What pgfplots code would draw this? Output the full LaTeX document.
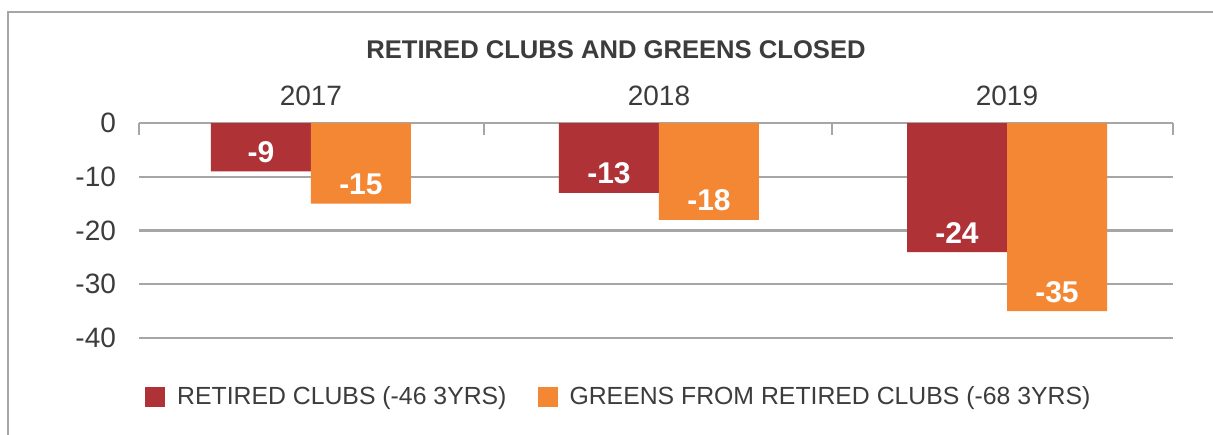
\documentclass[border=0pt]{standalone}
\usepackage{pgfplots}
\pgfplotsset{compat=1.18}
\usepackage{fontspec}
\setmainfont{Liberation Sans}
\definecolor{clubred}{HTML}{AF3237}
\definecolor{greenorange}{HTML}{F48733}
\definecolor{txt}{HTML}{3C3C3C}
\definecolor{gridc}{HTML}{A6A6A6}
\begin{document}
\begin{tikzpicture}
\useasboundingbox (-69.5pt,-48pt) rectangle (537pt,169pt);
\fill[white] (-69.5pt,-48pt) rectangle (537pt,169pt);
\draw[gridc, line width=0.8pt] (-65.5pt,-60pt) -- (-65.5pt,163pt) -- (545pt,163pt);
\node[font=\bfseries\fontsize{12.8}{14}\selectfont, text=txt] at (238.5pt,144pt) {RETIRED CLUBS AND GREENS CLOSED};
\begin{axis}[
  at={(0,0)}, anchor=south west,
  scale only axis, width=517pt, height=107.5pt,
  xmin=-0.494, xmax=2.477, ymin=-40, ymax=0,
  ybar=0pt, bar width=50pt,
  axis x line*=top, axis y line*=left,
  y axis line style={draw=none},
  x axis line style={draw=gridc, line width=1.2pt, -},
  xtick={-0.494,0.497,1.497,2.477}, xticklabels={},
  tick align=inside,
  major x tick style={draw=gridc, line width=1.2pt},
  major tick length=6pt,
  extra x ticks={0,1,2},
  extra x tick labels={2017,2018,2019},
  extra x tick style={major tick length=0pt},
  xticklabel style={font=\fontsize{14}{15}\selectfont, text=txt, yshift=5pt},
  ytick={-40,-30,-20,-10,0},
  yticklabels={-40,-30,-20,-10,0},
  y tick style={draw=none},
  yticklabel style={font=\fontsize{14}{15}\selectfont, text=txt, xshift=-8pt},
  ymajorgrids, grid style={draw=gridc, line width=1.2pt},
  /pgf/number format/assume math mode=true,
  nodes near coords={\pgfmathprintnumber{\pgfplotspointmeta}},
  every node near coord/.append style={anchor=base, yshift=4.5pt, font=\bfseries\fontsize{15}{16}\selectfont, text=white},
  legend style={at={(axis description cs:0.465,-0.274)}, anchor=center, draw=none, fill=none,
    legend columns=-1, font=\fontsize{12.4}{14}\selectfont, text=txt,
    /tikz/every even column/.append style={column sep=13.5pt}},
  legend image code/.code={\fill[#1] (0pt,-5pt) rectangle (10pt,5pt); \path (14pt,0pt);},
]
\addplot[fill=clubred, draw=none] coordinates {(0,-9) (1,-13) (2,-24)};
\addplot[fill=greenorange, draw=none] coordinates {(0,-15) (1,-18) (2,-35)};
\legend{RETIRED CLUBS (-46 3YRS), GREENS FROM RETIRED CLUBS (-68 3YRS)}
\end{axis}
\end{tikzpicture}
\end{document}
